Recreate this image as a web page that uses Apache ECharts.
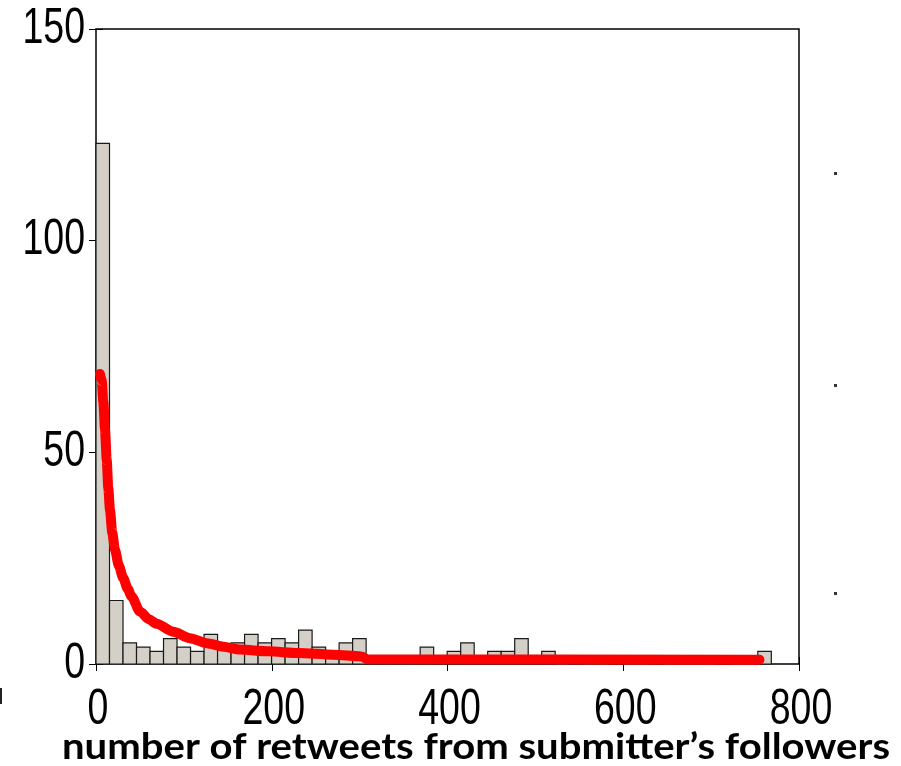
<!DOCTYPE html>
<html>
<head>
<meta charset="utf-8">
<script src="https://cdn.jsdelivr.net/npm/echarts@6/dist/echarts.min.js"></script>
<style>
  html, body { margin: 0; padding: 0; background: #ffffff; }
  #chart { width: 901px; height: 766px; }
</style>
</head>
<body>
<div id="chart"></div>
<script>
// Histogram of retweet counts (50 equal bins) with a fitted decay curve
const binStart = 0;
const binWidth = 15.37;
const counts = [123, 15, 5, 4, 3, 6, 4, 3, 7, 4,
                5, 7, 5, 6, 5, 8, 4, 2, 5, 6,
                2, 1, 2, 1, 4, 2, 3, 5, 1, 3,
                3, 6, 1, 3, 0, 1, 0, 0, 1, 0,
                0, 1, 0, 0, 0, 0, 1, 0, 0, 3];

// Fitted curve
const fitX = [4.5, 6.5, 8.3, 10.2, 12.2, 14, 15.9, 18.5, 21.6, 26, 31, 36, 40.6, 50, 60, 69, 88, 107, 126, 145, 164, 196, 230, 270, 302, 309, 755];
const fitY = [68.5, 67, 62, 55.5, 48.2, 41.5, 36.4, 31, 27, 23.2, 20.3, 17.8, 15.9, 12.4, 10.6, 9.5, 7.6, 6.1, 4.9, 4.1, 3.4, 3.0, 2.6, 2.2, 1.8, 1.1, 1.0];

const xTicks = { min: 0, max: 800, interval: 200 };
const yTicks = { min: 0, max: 150, interval: 50 };
const xTickLabels = ['0', '200', '400', '600', '800'];
const yTickLabels = ['0', '50', '100', '150'];
const xTitle = 'number of retweets from submitter\u2019s followers';

const histData = counts.map((c, i) => [binStart + i * binWidth, binStart + (i + 1) * binWidth, c]);
const fitData = fitX.map((x, i) => [x, fitY[i]]);

const chart = echarts.init(document.getElementById('chart'), null, { renderer: 'canvas' });

const axisCommon = {
  axisLine: { show: false },
  splitLine: { show: false },
  axisLabel: { show: false },
  axisTick: { show: true, inside: true, length: 7, lineStyle: { color: '#000', width: 1 } }
};

chart.setOption({
  animation: false,
  backgroundColor: '#ffffff',
  grid: {
    left: 96, top: 29, right: 102, bottom: 102,
    show: true, borderColor: '#000', borderWidth: 1.5, backgroundColor: '#ffffff'
  },
  xAxis: [
    Object.assign({ type: 'value', position: 'bottom', min: xTicks.min, max: xTicks.max, interval: xTicks.interval }, axisCommon),
    Object.assign({ type: 'value', position: 'top', min: xTicks.min, max: xTicks.max, interval: xTicks.interval }, axisCommon)
  ],
  yAxis: [
    Object.assign({ type: 'value', position: 'left', min: yTicks.min, max: yTicks.max, interval: yTicks.interval }, axisCommon),
    Object.assign({ type: 'value', position: 'right', min: yTicks.min, max: yTicks.max, interval: yTicks.interval }, axisCommon)
  ],
  series: [
    {
      type: 'custom',
      xAxisIndex: 0, yAxisIndex: 0,
      data: histData,
      renderItem: function (params, api) {
        const h = api.value(2);
        if (!h) return null;
        const p0 = api.coord([api.value(0), 0]);
        const p1 = api.coord([api.value(1), h]);
        return {
          type: 'rect',
          shape: { x: p0[0], y: p1[1], width: p1[0] - p0[0], height: p0[1] - p1[1] },
          style: { fill: '#d4d0c8', stroke: '#1a1a1a', lineWidth: 1.2 }
        };
      },
      z: 2
    },
    {
      type: 'line',
      xAxisIndex: 0, yAxisIndex: 0,
      data: fitData,
      showSymbol: false,
      symbol: 'none',
      smooth: 0.25,
      smoothMonotone: 'x',
      lineStyle: { color: '#ff0000', width: 10, cap: 'round', join: 'round' },
      z: 3
    }
  ]
});

// Tick labels in a tall, condensed face, anchored to the axis scale
const tickFont = '50px "Liberation Sans", Arial, sans-serif';
const condense = 0.75;
const labels = [];
xTickLabels.forEach(function (t) {
  const p = chart.convertToPixel({ xAxisIndex: 0, yAxisIndex: 0 }, [Number(t), yTicks.min]);
  labels.push({
    type: 'text', x: p[0] + 2, y: p[1] + 46, scaleX: condense, originX: 0, originY: 0,
    style: { text: t, font: tickFont, fill: '#000', align: 'center', verticalAlign: 'middle', textAlign: 'center', textVerticalAlign: 'middle' }
  });
});
yTickLabels.forEach(function (t) {
  const p = chart.convertToPixel({ xAxisIndex: 0, yAxisIndex: 0 }, [xTicks.min, Number(t)]);
  labels.push({
    type: 'text', x: p[0] - 11, y: p[1], scaleX: condense, originX: 0, originY: 0,
    style: { text: t, font: tickFont, fill: '#000', align: 'right', verticalAlign: 'middle', textAlign: 'right', textVerticalAlign: 'middle' }
  });
});

// Axis title, fitted to the full caption width
const titleFont = 'bold 37px Lato, "Open Sans", sans-serif';
const meas = document.createElement('canvas').getContext('2d');
meas.font = titleFont;
const titleScale = 828 / meas.measureText(xTitle).width;
labels.push({
  type: 'text', x: 62, y: 747, scaleX: titleScale, originX: 0, originY: 0,
  style: { text: xTitle, font: titleFont, fill: '#000', align: 'left', verticalAlign: 'middle', textAlign: 'left', textVerticalAlign: 'middle' }
});

// Stray marks beside the frame
labels.push(
  { type: 'rect', x: 834, y: 172, shape: { width: 3, height: 3 }, style: { fill: '#333' } },
  { type: 'rect', x: 834, y: 384, shape: { width: 3, height: 3 }, style: { fill: '#333' } },
  { type: 'rect', x: 834, y: 592, shape: { width: 3, height: 3 }, style: { fill: '#333' } },
  { type: 'rect', x: 0, y: 688, shape: { width: 2, height: 16 }, style: { fill: '#222' } }
);

chart.setOption({ graphic: labels });
</script>
</body>
</html>
